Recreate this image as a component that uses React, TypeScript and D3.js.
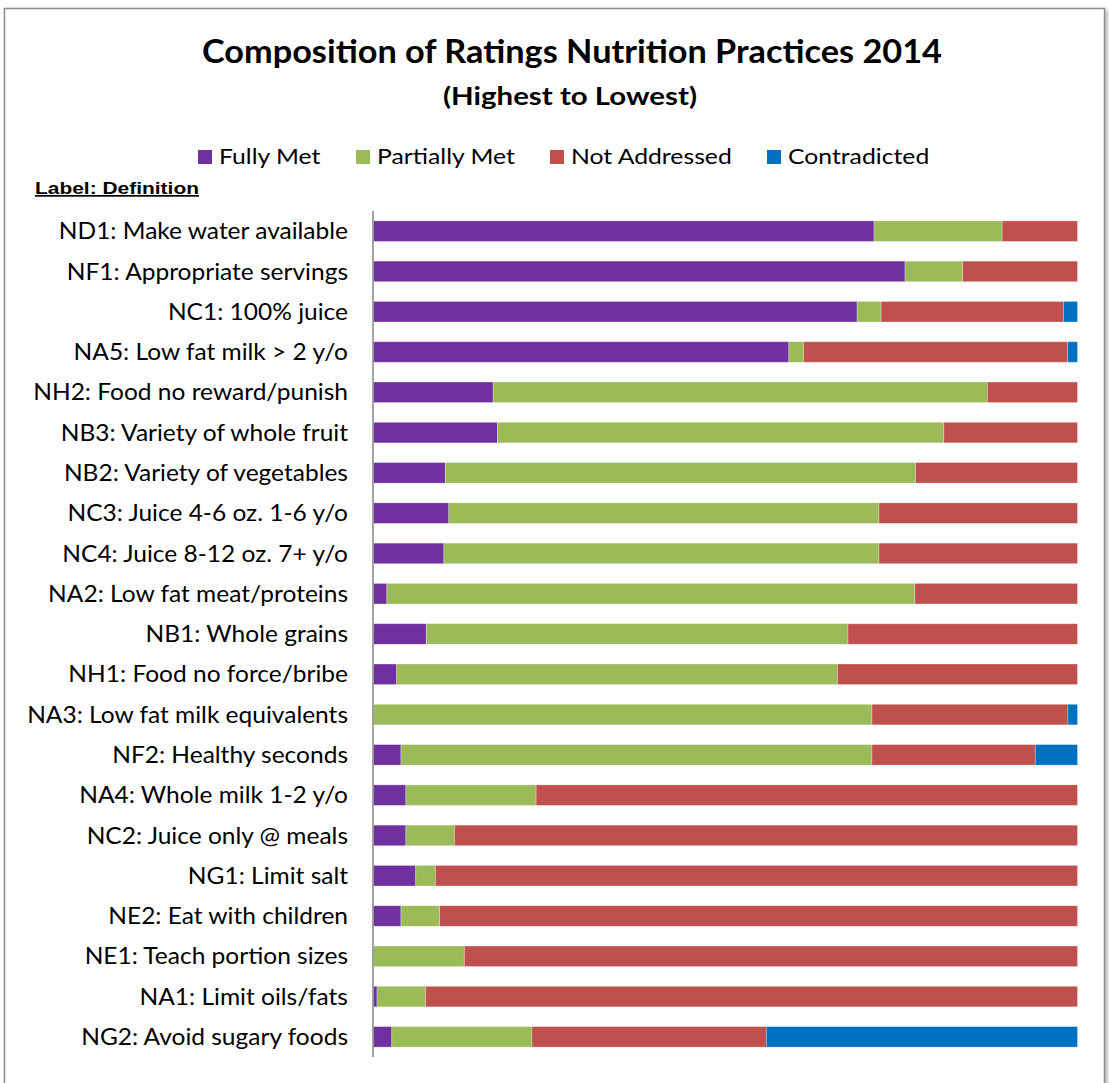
import React from "react";
import * as d3 from "d3";

const categories = [
  "ND1: Make water available",
  "NF1: Appropriate servings",
  "NC1: 100% juice",
  "NA5: Low fat milk > 2 y/o",
  "NH2: Food no reward/punish",
  "NB3: Variety of whole fruit",
  "NB2: Variety of vegetables",
  "NC3: Juice 4-6 oz. 1-6 y/o",
  "NC4: Juice 8-12 oz. 7+ y/o",
  "NA2: Low fat meat/proteins",
  "NB1: Whole grains",
  "NH1: Food no force/bribe",
  "NA3: Low fat milk equivalents",
  "NF2: Healthy seconds",
  "NA4: Whole milk 1-2 y/o",
  "NC2: Juice only @ meals",
  "NG1: Limit salt",
  "NE2: Eat with children",
  "NE1: Teach portion sizes",
  "NA1: Limit oils/fats",
  "NG2: Avoid sugary foods",
];

const fullyMet = [71.1, 75.5, 68.7, 59.0, 17.0, 17.6, 10.2, 10.7, 10.0, 1.9, 7.5, 3.3, 0, 3.9, 4.6, 4.6, 6.0, 3.9, 0, 0.5, 2.6];
const partiallyMet = [18.2, 8.2, 3.4, 2.1, 70.2, 63.4, 66.8, 61.1, 61.8, 75.0, 59.9, 62.6, 70.8, 66.9, 18.5, 6.9, 2.8, 5.5, 12.9, 6.9, 19.9];
const notAddressed = [10.7, 16.3, 25.9, 37.5, 12.8, 19.0, 23.0, 28.2, 28.2, 23.1, 32.6, 34.1, 27.85, 23.2, 76.9, 88.5, 91.2, 90.6, 87.1, 92.6, 33.3];
const contradicted = [0, 0, 2.0, 1.4, 0, 0, 0, 0, 0, 0, 0, 0, 1.35, 6.0, 0, 0, 0, 0, 0, 0, 44.2];

const seriesNames = ["Fully Met", "Partially Met", "Not Addressed", "Contradicted"];
const seriesColors = ["#7030A0", "#9BBB59", "#C0504D", "#0070C0"];

const W = 1109;
const H = 1083;

export default function App() {
  const rows = categories.map((c, i) => {
    const vals = [fullyMet[i], partiallyMet[i], notAddressed[i], contradicted[i]];
    const sum = d3.sum(vals);
    const o: any = { cat: c };
    seriesNames.forEach((s, j) => (o[s] = (vals[j] / sum) * 100));
    return o;
  });
  const stack = d3.stack<any>().keys(seriesNames)(rows);

  const x = d3.scaleLinear().domain([0, 100]).range([373.5, 1077.5]);
  const y = d3
    .scaleBand<string>()
    .domain(categories)
    .range([211, 1057])
    .paddingInner(0.49)
    .paddingOuter(0.245);

  const legendX = [198, 356, 550, 767];
  const font = "Lato, 'Open Sans', sans-serif";

  return (
    <svg
      width={W}
      height={H}
      style={{ position: "absolute", left: 0, top: 0, background: "#fff" }}
      fontFamily={font}
    >
      <defs>
        <filter id="sh" x="-5%" y="-5%" width="110%" height="110%">
          <feDropShadow dx="2" dy="2" stdDeviation="2" floodColor="#000" floodOpacity="0.35" />
        </filter>
      </defs>
      <rect x={4.5} y={8.5} width={1100} height={1090} fill="#fff" stroke="#8c8c8c" strokeWidth={1.5} filter="url(#sh)" />

      <text
        x={572}
        y={63}
        textAnchor="middle"
        fontSize={32}
        fontWeight="bold"
        fill="#000"
        textLength={740}
        lengthAdjust="spacingAndGlyphs"
      >
        Composition of Ratings Nutrition Practices 2014
      </text>
      <text
        x={570}
        y={105}
        textAnchor="middle"
        fontSize={24}
        fontWeight="bold"
        fill="#000"
        textLength={254}
        lengthAdjust="spacingAndGlyphs"
      >
        (Highest to Lowest)
      </text>

      {seriesNames.map((s, i) => (
        <g key={s}>
          <rect x={legendX[i]} y={150} width={14} height={14} fill={seriesColors[i]} />
          <g transform={`translate(${legendX[i] + 21},164) scale(1.125,1)`}>
            <text x={0} y={0} fontSize={22} fill="#000">
              {s}
            </text>
          </g>
        </g>
      ))}

      <text
        x={35}
        y={194}
        fontSize={17}
        fontWeight="bold"
        fontFamily="'Liberation Sans', Arial, sans-serif"
        textDecoration="underline"
        fill="#000"
        textLength={164}
        lengthAdjust="spacingAndGlyphs"
      >
        Label: Definition
      </text>

      {stack.map((layer, i) => (
        <g key={layer.key} fill={seriesColors[i]}>
          {layer.map((d: any) => {
            const w = x(d[1]) - x(d[0]);
            if (w <= 0.01) return null;
            return (
              <rect
                key={d.data.cat}
                x={x(d[0])}
                y={y(d.data.cat)}
                width={w}
                height={y.bandwidth()}
                stroke="rgba(255,255,255,0.35)"
                strokeWidth={0.8}
              />
            );
          })}
        </g>
      ))}

      <line x1={373} x2={373} y1={211} y2={1057} stroke="#868686" strokeWidth={1.5} />

      {categories.map((c) => (
        <g
          key={c}
          transform={`translate(348,${(y(c) as number) + y.bandwidth() / 2}) scale(1.09,1)`}
        >
          <text x={0} y={0} dy="0.36em" textAnchor="end" fontSize={22.5} fill="#000">
            {c}
          </text>
        </g>
      ))}
    </svg>
  );
}
